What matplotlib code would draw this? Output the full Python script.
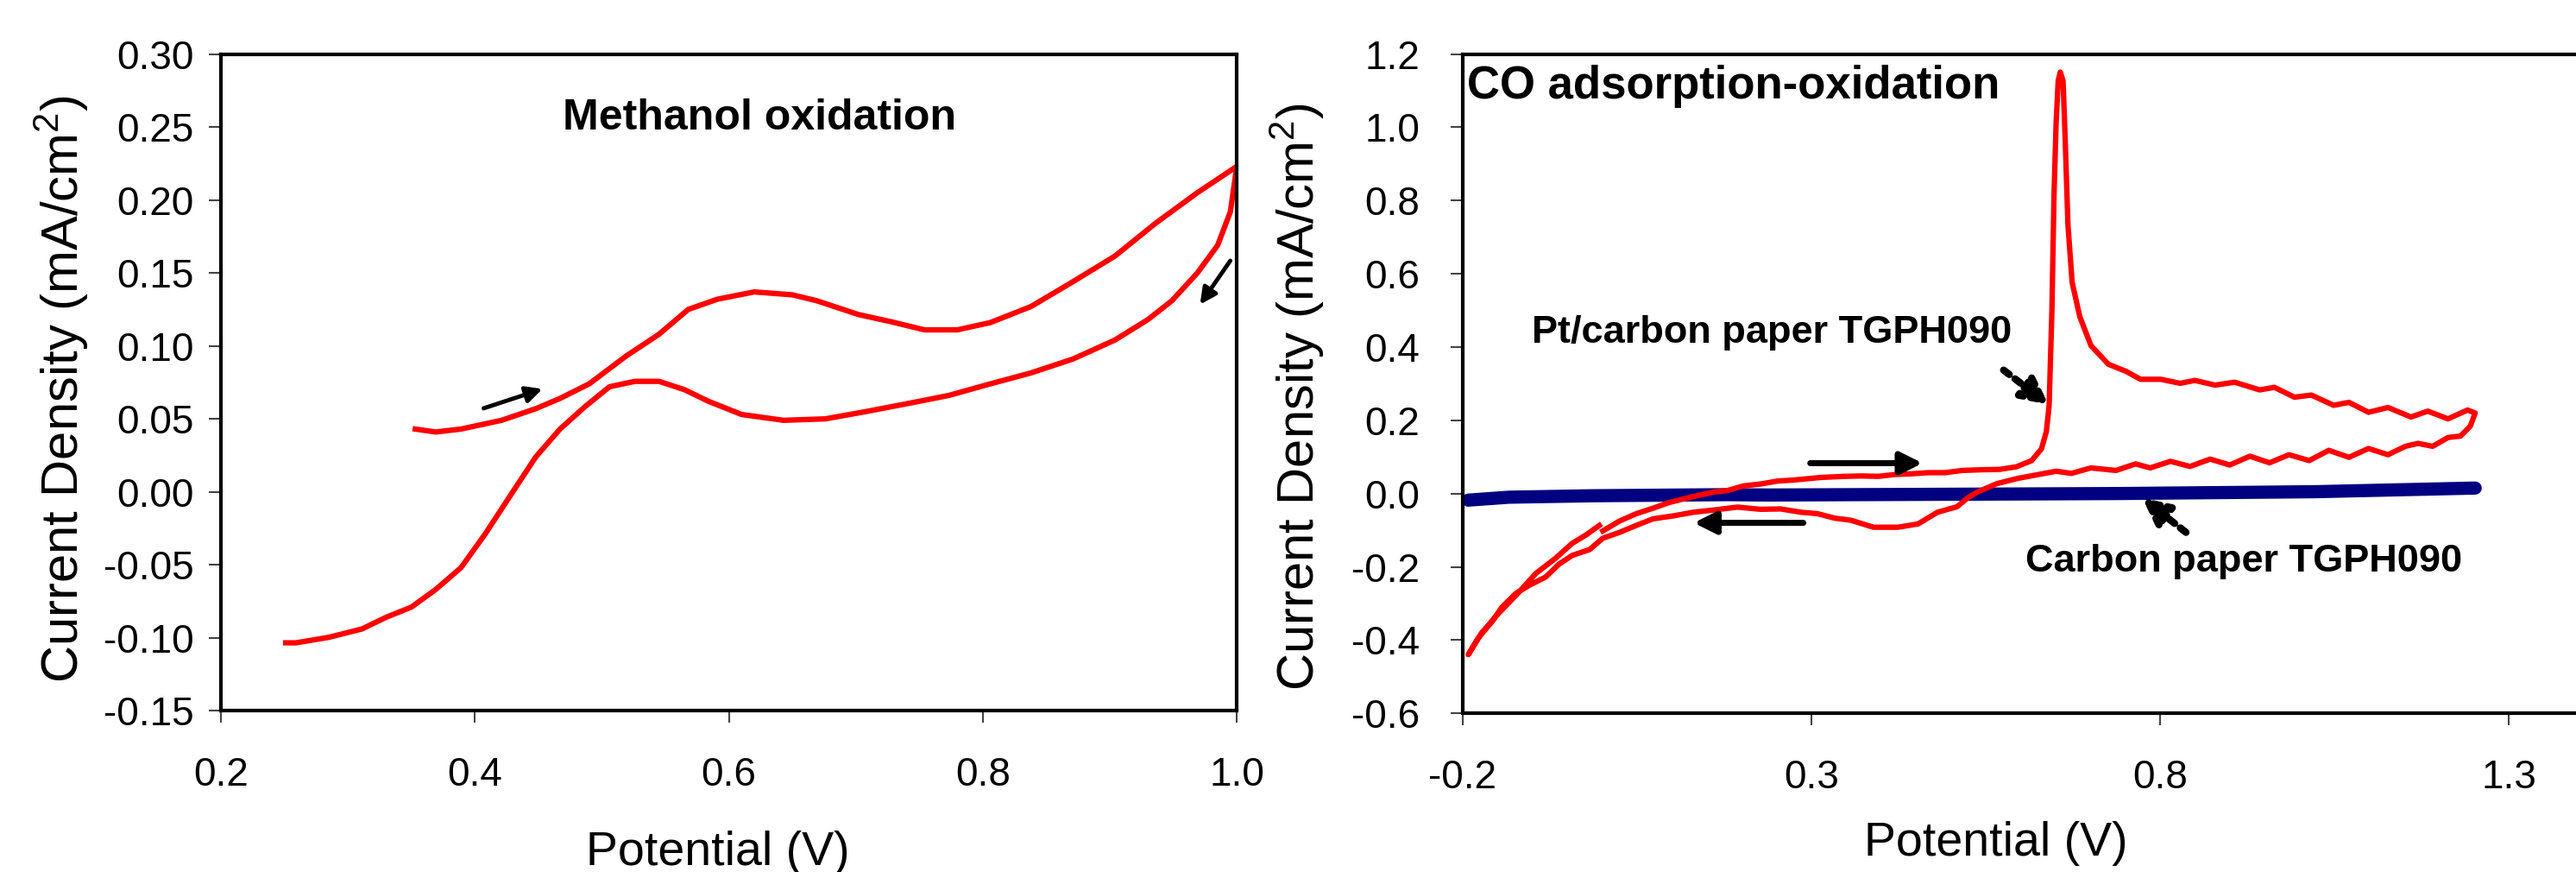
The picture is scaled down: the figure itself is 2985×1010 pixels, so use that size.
import numpy as np
import matplotlib.pyplot as plt
from matplotlib.ticker import FormatStrFormatter

# methanol oxidation CV (forward then reverse)
meoh_v = [0.353, 0.369, 0.389, 0.421, 0.448, 0.467, 0.490, 0.519, 0.545, 0.568, 0.591, 0.620,
          0.650, 0.669, 0.702, 0.728, 0.754, 0.780, 0.806, 0.838, 0.871, 0.904, 0.936, 0.969, 1.0,
          0.995, 0.985, 0.969, 0.949, 0.930, 0.904, 0.871, 0.838, 0.806, 0.773, 0.741, 0.708,
          0.676, 0.643, 0.610, 0.584, 0.565, 0.545, 0.526, 0.506, 0.487, 0.467, 0.448, 0.428,
          0.408, 0.389, 0.369, 0.350, 0.330, 0.311, 0.285, 0.259, 0.251]
meoh_j = [0.043, 0.041, 0.043, 0.049, 0.057, 0.064, 0.074, 0.093, 0.108, 0.125, 0.132, 0.137,
          0.135, 0.131, 0.1215, 0.1165, 0.111, 0.111, 0.116, 0.127, 0.144, 0.1615, 0.184, 0.205, 0.223,
          0.192, 0.169, 0.150, 0.131, 0.118, 0.104, 0.091, 0.0815, 0.074, 0.066, 0.0605, 0.055,
          0.050, 0.049, 0.053, 0.062, 0.070, 0.0757, 0.0757, 0.072, 0.0586, 0.043, 0.024, -0.0024,
          -0.029, -0.052, -0.067, -0.079, -0.086, -0.094, -0.0997, -0.1035, -0.1035]

# CO stripping on Pt/carbon paper
co_v = [0.001, 0.025, 0.049, 0.073, 0.097, 0.131, 0.160, 0.179, 0.203, 0.227, 0.251, 0.275,
        0.314, 0.348, 0.372, 0.396, 0.420, 0.444, 0.468, 0.492, 0.516, 0.545, 0.570, 0.594,
        0.616, 0.630, 0.637, 0.641, 0.645, 0.648, 0.651, 0.654, 0.657, 0.661, 0.664, 0.668,
        0.674, 0.685, 0.701, 0.726, 0.751, 0.772, 0.801, 0.829, 0.850, 0.879, 0.907, 0.943,
        0.964, 0.993, 1.017, 1.049, 1.071, 1.099, 1.127, 1.160, 1.184, 1.213, 1.241, 1.252,
        1.245, 1.231, 1.213, 1.191, 1.170, 1.152, 1.127, 1.099, 1.071, 1.042, 1.014, 0.985,
        0.957, 0.929, 0.900, 0.872, 0.843, 0.815, 0.786, 0.765, 0.737, 0.701, 0.673, 0.651,
        0.623, 0.595, 0.566, 0.538, 0.524, 0.509, 0.481, 0.453, 0.424, 0.389, 0.357, 0.333,
        0.309, 0.285, 0.256, 0.227, 0.194, 0.160, 0.131, 0.102, 0.073, 0.049, 0.025, 0.001,
        -0.018, -0.043, -0.062, -0.081, -0.103, -0.124, -0.144, -0.158, -0.177, -0.192,
        -0.173, -0.148, -0.124, -0.095, -0.067, -0.043, -0.023, -0.004]
co_j = [-0.102, -0.075, -0.055, -0.040, -0.024, -0.008, 0.004, 0.008, 0.021, 0.026, 0.034, 0.037,
        0.044, 0.047, 0.048, 0.047, 0.052, 0.054, 0.057, 0.057, 0.063, 0.065, 0.066, 0.073,
        0.090, 0.122, 0.169, 0.239, 0.499, 0.813, 1.010, 1.127, 1.151, 1.127, 0.970, 0.734,
        0.577, 0.483, 0.404, 0.353, 0.334, 0.312, 0.312, 0.301, 0.309, 0.296, 0.304, 0.283,
        0.290, 0.263, 0.269, 0.241, 0.249, 0.222, 0.235, 0.209, 0.225, 0.204, 0.228, 0.220,
        0.184, 0.157, 0.153, 0.129, 0.137, 0.129, 0.106, 0.123, 0.099, 0.118, 0.090, 0.106,
        0.084, 0.102, 0.078, 0.094, 0.074, 0.088, 0.070, 0.081, 0.063, 0.070, 0.055, 0.061,
        0.051, 0.041, 0.027, 0.004, -0.012, -0.036, -0.051, -0.083, -0.092, -0.092, -0.073, -0.067,
        -0.055, -0.051, -0.042, -0.043, -0.037, -0.045, -0.051, -0.061, -0.069, -0.087, -0.106, -0.122,
        -0.153, -0.169, -0.193, -0.228, -0.249, -0.273, -0.311, -0.350, -0.393, -0.440,
        -0.381, -0.326, -0.279, -0.218, -0.177, -0.136, -0.113, -0.087]

# bare carbon paper
cp_v = [-0.192, -0.134, -0.014, 0.179, 0.239, 0.737, 1.021, 1.252]
cp_j = [-0.018, -0.010, -0.006, -0.003, -0.004, 0.000, 0.005, 0.015]

plt.rcParams['font.family'] = ['Liberation Sans', 'DejaVu Sans']
plt.rcParams['mathtext.fontset'] = 'custom'
plt.rcParams['mathtext.rm'] = 'Liberation Sans'
plt.rcParams['mathtext.it'] = 'Liberation Sans'

fig = plt.figure(figsize=(29.85, 10.10), dpi=100)
ax1 = fig.add_axes([0.0858, 0.185, 0.3943, 0.753])
ax2 = fig.add_axes([0.5678, 0.182, 0.4602, 0.756])

for ax in (ax1, ax2):
    for s in ax.spines.values():
        s.set_linewidth(3)
    ax.tick_params(direction='out', length=10, width=1.5, labelsize=33, color='#444444',
                   top=False, right=False)

# left panel
ax1.plot(meoh_v, meoh_j, color='#FF0000', lw=4.5, solid_joinstyle='round')
ax1.set_xlim(0.2, 1.0)
ax1.set_ylim(-0.15, 0.30)
ax1.set_xticks(np.arange(0.2, 1.01, 0.2))
ax1.set_yticks(np.arange(-0.15, 0.301, 0.05))
ax1.xaxis.set_major_formatter(FormatStrFormatter('%.1f'))
ax1.yaxis.set_major_formatter(FormatStrFormatter('%.2f'))
ax1.tick_params(axis='y', pad=13)
ax1.tick_params(axis='x', pad=28)
ax1.set_xlabel('Potential (V)', fontsize=40)
ax1.set_ylabel('Current Density (mA/cm$^2$)', fontsize=43)
ax1.xaxis.set_label_coords(0.489, -0.183)
ax1.yaxis.set_label_coords(-0.128, 0.49)
ax1.text(0.624, 0.256, 'Methanol oxidation', fontweight='bold',
         fontsize=36, ha='center', va='center')
ax1.annotate('', xy=(0.455, 0.071), xytext=(0.405, 0.0567),
             arrowprops=dict(arrowstyle='-|>', color='black', lw=3.5, mutation_scale=28))
ax1.annotate('', xy=(0.970, 0.127), xytext=(0.996, 0.1597),
             arrowprops=dict(arrowstyle='-|>', color='black', lw=3.5, mutation_scale=28))

# right panel
ax2.plot(cp_v, cp_j, color='#000080', lw=11, solid_capstyle='round')
ax2.plot(co_v, co_j, color='#FF0000', lw=4.5, solid_joinstyle='round')
ax2.set_xlim(-0.2, 1.5)
ax2.set_ylim(-0.6, 1.2)
ax2.set_xticks([-0.2, 0.3, 0.8, 1.3])
ax2.set_yticks(np.arange(-0.6, 1.21, 0.2))
ax2.xaxis.set_major_formatter(FormatStrFormatter('%.1f'))
ax2.yaxis.set_major_formatter(FormatStrFormatter('%.1f'))
ax2.tick_params(axis='y', pad=26)
ax2.tick_params(axis='x', pad=28)
ax2.set_xlabel('Potential (V)', fontsize=40)
ax2.set_ylabel('Current Density (mA/cm$^2$)', fontsize=43)
ax2.xaxis.set_label_coords(0.45, -0.163)
ax2.yaxis.set_label_coords(-0.115, 0.48)

ax2.text(-0.194, 1.112, 'CO adsorption-oxidation', fontweight='bold',
         fontsize=38, ha='left', va='center')
ax2.text(0.243, 0.440, 'Pt/carbon paper TGPH090', fontweight='bold',
         fontsize=32.5, ha='center', va='center')
ax2.text(0.920, -0.185, 'Carbon paper TGPH090', fontweight='bold',
         fontsize=32.5, ha='center', va='center')

ax2.annotate('', xy=(0.463, 0.083), xytext=(0.295, 0.083),
             arrowprops=dict(arrowstyle='-|>', color='black', lw=5, mutation_scale=38))
ax2.annotate('', xy=(0.128, -0.080), xytext=(0.292, -0.080),
             arrowprops=dict(arrowstyle='-|>', color='black', lw=5, mutation_scale=38))
ax2.annotate('', xy=(0.643, 0.239), xytext=(0.573, 0.341),
             arrowprops=dict(arrowstyle='-|>', color='black', lw=6, linestyle=(0, (1, 1)),
                             mutation_scale=45))
ax2.annotate('', xy=(0.772, -0.008), xytext=(0.840, -0.110),
             arrowprops=dict(arrowstyle='-|>', color='black', lw=6, linestyle=(0, (1, 1)),
                             mutation_scale=45))

fig.savefig('out.png', dpi=100)
